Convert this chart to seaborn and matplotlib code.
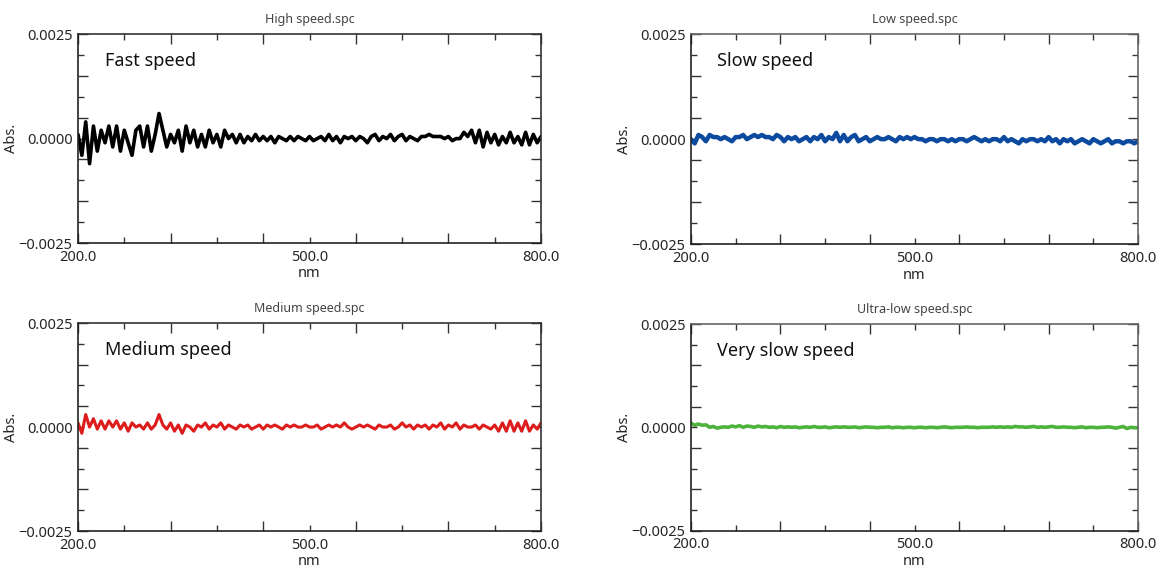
import matplotlib
matplotlib.use("Agg")
import matplotlib.pyplot as plt
from matplotlib.ticker import FixedLocator, FuncFormatter
import numpy as np
import pandas as pd
import seaborn as sns

# wavelength grid, 5 nm steps
nm = np.arange(200, 801, 5)

# noise traces, in units of 1e-4 Abs.
high = [
    1, -4, 4, -6, 3, -3, 2, -1, 3, -2,
    3, -3, 2, -1, -4, 2, 3, -2, 3, -3,
    1, 6, 2, -2, 1, -1, 2, -3, 3, -1,
    2, -2, 1, -2, 2, -1, 1, -2, 2, 0,
    1, -1, 1, -1, 0.5, -0.5, 1, -0.5, 0.5, -0.5,
    0.5, -1, 0.5, 0, -0.5, 0.5, -0.5, 0.5, 0, -0.5,
    0.5, -0.5, 0, 0.5, -0.5, 1, -0.5, 0.5, -1, 0.5,
    0, 0.5, -0.5, 0.5, 0, -1, 0.5, 1, -0.5, 0.5,
    0, 1, -0.5, 0.5, 1, -0.5, 0.5, 0, -0.5, 0.5,
    0.5, 1, 0.5, 0.5, 0.5, 0, 0.5, -0.5, 0, 0,
    1.5, 0.5, 2, -1, 2, -2, 1.5, -1, 1, -1.5,
    0.5, -1, 1.5, -1, 0.5, -1.5, 1.5, -1.5, 1, -1,
    0.5,
]
low = [
    0, -1, 1, 0.5, -0.5, 1, 0.5, 0.5, 0, 0.5,
    0, -0.5, 0.5, 0.5, 1, 0, 0.5, 1, 0.5, 1,
    0.5, 0.5, 0, 1, 0.5, -0.5, 0.5, 0, 0.5, -0.5,
    0, 0.5, -0.5, 0.5, 0, 1, -0.5, 0.5, 0, 1.5,
    -0.5, 1, -0.5, 0.5, 1, -0.5, 0, 0.5, -0.5, 0,
    0.5, 0, 0, 0.5, 0, -0.5, 0.5, 0, 0.5, 0,
    0.5, 0, 0, -0.5, 0, 0, -0.5, 0, 0, -0.5,
    0, -0.5, 0, 0, -0.5, 0, 0.5, 0, -0.5, 0,
    -0.5, 0, 0, -0.5, 0.5, -0.5, 0, -0.5, -1, 0,
    -0.5, 0, 0, -0.5, 0, -0.5, 0.5, -0.5, 0, -1,
    0, -0.5, 0, -1, -0.5, 0, -0.5, -1, 0, -0.5,
    -1, -0.5, 0, -1, -0.5, -0.5, -1, -0.5, -0.5, -1,
    -0.5,
]
medium = [
    1, -1.5, 3, 0, 2, -0.5, 1.5, -0.5, 1.5, 0,
    1.5, -0.5, 1, -1, 1, 0, 0.5, -0.5, 1, -0.5,
    0.5, 3, 0.5, -0.5, 1, -1, 0.5, -1.5, 0.5, 0,
    -1, 0.5, 0, 1, -0.5, 0.5, 0, 1, -0.5, 0.5,
    0, -0.5, 0.5, 0, 0.5, -0.5, 0, 0.5, -0.5, 0.5,
    0, 0.5, 0, -0.5, 0.5, 0, 0.5, 0, 0, 0.5,
    0, 0, 0.5, -0.5, 0, 0.5, 0, 0.5, 0, 1,
    0, -0.5, 0, 0.5, 0, 0.5, 0, -0.5, 0.5, 0,
    0, 0.5, -0.5, 0, 1, 0, 0.5, -0.5, 0.5, 0,
    0.5, -0.5, 0.5, 0, 1, -0.5, 0.5, 0, 1, -0.5,
    0.5, 0, 0, 0.5, -0.5, 0.5, 0, -0.5, 0.5, -1,
    1, -1, 1.5, -1, 1, -1, 1.5, -1, 0.5, -0.5,
    1,
]
ultra = [
    1, 0.5, 0.8, 0.5, 0.6, 0, 0.2, -0.2, 0, 0.1,
    0, 0.3, 0.1, 0.4, 0, 0.3, 0.2, 0, 0.3, 0.1,
    0.2, 0, 0.1, -0.1, 0.2, 0, 0.1, 0, 0.1, -0.1,
    0, 0.1, 0, 0.2, 0, 0, 0.1, -0.1, 0, 0.1,
    0, 0.1, 0, 0, 0.1, -0.1, 0, 0.1, 0, 0,
    -0.1, 0, 0, 0.1, -0.1, 0, 0, -0.1, 0, 0,
    -0.1, 0, 0, -0.1, 0, 0, -0.1, 0, 0.1, 0,
    -0.1, 0, 0, 0, 0.1, 0, 0, -0.1, 0, 0,
    0, 0.1, 0, 0.1, 0, 0.1, 0, 0.2, 0.1, 0.1,
    0, 0.1, 0.2, 0, 0.1, 0, 0.1, 0.2, 0, 0,
    0.1, 0, 0, -0.1, 0, 0.1, -0.1, 0, 0, -0.1,
    0, 0, 0.1, 0, -0.2, 0, 0.2, -0.3, 0, -0.1,
    -0.1,
]

titles = ["High speed.spc", "Low speed.spc", "Medium speed.spc", "Ultra-low speed.spc"]
labels = ["Fast speed", "Slow speed", "Medium speed", "Very slow speed"]
series = [high, low, medium, ultra]
colors = ["#000000", "#0b4a9e", "#dd1c1c", "#4db33d"]
widths = [2.6, 3.2, 2.2, 2.6]

sns.set_theme(style="ticks")
plt.rcParams["font.family"] = ["Noto Sans", "DejaVu Sans"]

fig = plt.figure(figsize=(11.59, 5.68), dpi=100)

# axes boxes [left, bottom, width, height] in figure fraction
boxes = [
    [0.0673, 0.572, 0.3995, 0.368],
    [0.5962, 0.570, 0.3857, 0.370],
    [0.0673, 0.0650, 0.3995, 0.3663],
    [0.5962, 0.0660, 0.3857, 0.3634],
]

x_major = [200, 320, 440, 560, 680, 800]
x_minor = [260, 380, 500, 620, 740]
y_major = [-0.0025, -0.0015, -0.0005, 0.0005, 0.0015, 0.0025]
y_minor = [-0.002, -0.001, 0.0, 0.001, 0.002]

for i, (box, title, lab, vals, col, lw) in enumerate(zip(boxes, titles, labels, series, colors, widths)):
    ax = fig.add_axes(box)
    df = pd.DataFrame({"nm": nm, "abs": np.array(vals) * 1e-4})
    sns.lineplot(data=df, x="nm", y="abs", ax=ax, color=col, linewidth=lw)

    ax.set_xlim(200, 800)
    ax.set_ylim(-0.0025, 0.0025)
    ax.xaxis.set_major_locator(FixedLocator(x_major))
    ax.xaxis.set_minor_locator(FixedLocator(x_minor))
    ax.yaxis.set_major_locator(FixedLocator(y_major))
    ax.yaxis.set_minor_locator(FixedLocator(y_minor))
    ax.xaxis.set_major_formatter(FuncFormatter(lambda v, p: f"{v:.1f}" if v in (200, 800) else ""))
    ax.xaxis.set_minor_formatter(FuncFormatter(lambda v, p: f"{v:.1f}" if v == 500 else ""))
    ax.yaxis.set_major_formatter(FuncFormatter(lambda v, p: f"{v:.4f}".replace("-", "\u2212") if abs(abs(v) - 0.0025) < 1e-9 else ""))
    ax.yaxis.set_minor_formatter(FuncFormatter(lambda v, p: "0.0000" if abs(v) < 1e-9 else ""))

    ax.tick_params(which="both", direction="in", top=True, right=True,
                   labelsize=10.5, color="#333333", width=1)
    ax.tick_params(axis="x", which="both", pad=5)
    ax.tick_params(axis="y", which="both", pad=4)
    ax.tick_params(which="major", length=7)
    ax.tick_params(which="minor", length=4)
    frame = "#333333" if i % 2 == 0 else "#666666"
    for name, s in ax.spines.items():
        s.set_color("#222222" if name in ("left", "bottom") else frame)
        s.set_linewidth(1.2)

    ax.set_xlabel("nm", fontsize=10.5, labelpad=1)
    ax.set_ylabel("Abs.", fontsize=10.5, labelpad=0)
    ax.set_title(title, fontsize=9, color="#444444", pad=8)
    ax.text(0.058, 0.87, lab, transform=ax.transAxes, fontsize=13,
            va="center", ha="left", color="#111111")

fig.savefig("out.png", dpi=100)
